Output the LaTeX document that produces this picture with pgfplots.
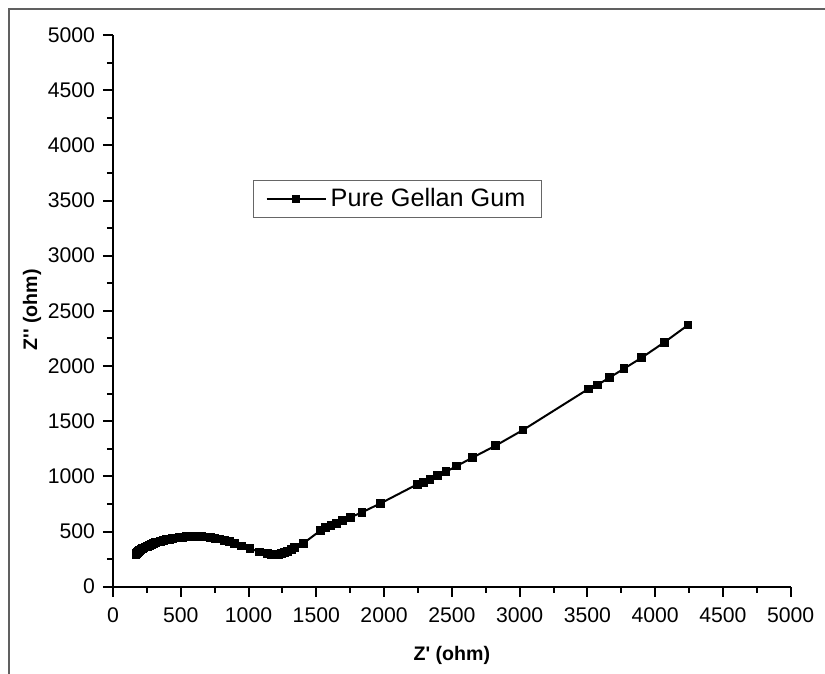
\documentclass[border=0pt]{standalone}
\usepackage{pgfplots}
\pgfplotsset{compat=1.18}
\usepackage{fontspec}
\setmainfont{Liberation Sans}
\pgfplotstableread{
x y
170 292
175 300
182 310
190 319
198 327
207 335
217 343
228 351
240 359
253 367
267 375
282 383
298 391
315 398
333 405
352 412
372 419
393 425
415 431
438 436
462 441
487 445
513 449
540 452
568 454
597 455
627 455
657 454
688 451
720 446
752 440
785 432
820 420
858 407
898 391
949 369
1011 348
1080 314
1140 298
1165 293
1185 291
1205 292
1225 295
1245 300
1265 308
1290 320
1315 335
1338 352
1404 393
1532 510
1569 533
1608 553
1650 574
1694 600
1753 629
1837 674
1975 756
2245 928
2290 946
2339 975
2393 1006
2457 1042
2536 1094
2651 1169
2822 1278
3025 1420
3507 1792
3573 1828
3662 1894
3770 1976
3900 2075
4068 2215
4242 2371
}\gellan
\begin{document}
\begin{tikzpicture}[x=1pt,y=1pt]
\useasboundingbox (0,0) rectangle (412.5,337);
\fill[white] (0,0) rectangle (412.5,337);
\draw[gray!75!black, line width=0.8pt] (4.5,0) -- (4.5,332.5) -- (412.5,332.5);
\begin{axis}[
  at={(56.5pt,43.65pt)}, anchor=south west,
  width=338.85pt, height=275.85pt, scale only axis,
  xmin=0, xmax=5000, ymin=0, ymax=5000,
  axis lines*=left,
  axis line style={line width=1pt},
  xtick={0,500,...,5000}, ytick={0,500,...,5000},
  minor tick num=1,
  tick align=outside,
  major tick length=5pt, minor tick length=3pt,
  every tick/.style={line width=1pt, black},
  /pgf/number format/.cd, 1000 sep={}, assume math mode=true,
  /pgfplots/.cd,
  ticklabel style={font=\fontsize{10.6}{12}\selectfont},
  xticklabel style={yshift=-2pt},
  yticklabel style={xshift=-0.5pt},
  xlabel={Z\textquotesingle{} (ohm)}, ylabel={Z\textquotesingle\textquotesingle{} (ohm)},
  label style={font=\fontsize{9.8}{11}\selectfont\bfseries},
  xlabel style={at={(axis description cs:0.5,-0.124)}, anchor=center},
  ylabel style={at={(axis description cs:-0.1195,0.5016)}, anchor=center, rotate=0},
  legend style={at={(rel axis cs:0.2066,0.7372)}, anchor=north west,
    draw=gray!80!black, line width=0.5pt, inner xsep=6pt, inner ysep=2pt,
    font=\fontsize{12.6}{14}\selectfont},
  legend image code/.code={\draw[mark repeat=2,mark phase=2, line width=1.1pt, mark size=1.3pt] plot coordinates {(0pt,0pt)(14.75pt,0pt)(29.5pt,0pt)};},
]
\addplot[black, line width=1pt, mark=square*, mark size=1.7pt, mark options={solid}] table {\gellan};
\addlegendentry{Pure Gellan Gum}
\end{axis}
\end{tikzpicture}
\end{document}
